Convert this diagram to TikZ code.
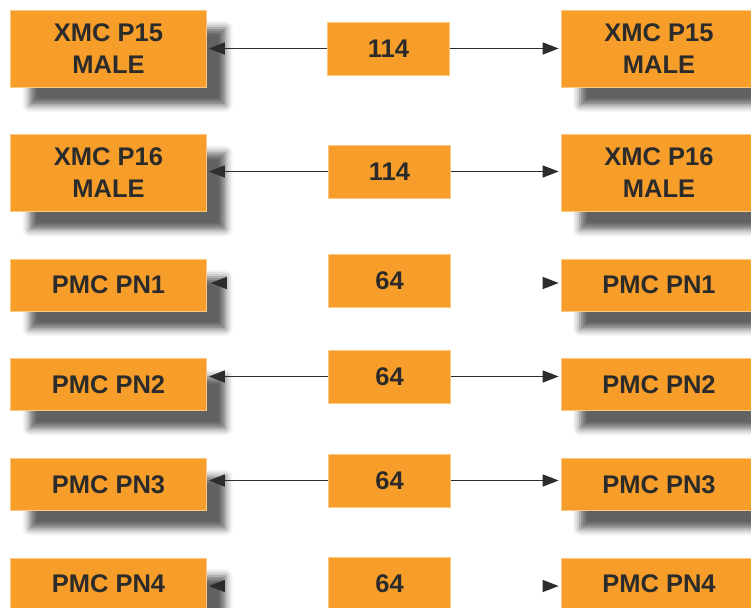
\documentclass[tikz,border=0pt]{standalone}
\usepackage{fontspec}
\setmainfont{Liberation Sans}
\usepackage{tikz}
\usetikzlibrary{shadows.blur,arrows.meta,positioning}
\definecolor{boxorange}{RGB}{246,158,41}
\definecolor{boxedge}{RGB}{250,200,128}
\definecolor{boxtext}{RGB}{43,43,43}
\definecolor{wire}{RGB}{45,45,45}

\begin{document}
\begin{tikzpicture}[x=1pt,y=-1pt,on grid,
    box/.style = {fill=boxorange,draw=boxedge,line width=0.6pt,align=center,inner sep=0pt,
                  text=boxtext,font=\bfseries\fontsize{25.5}{32}\selectfont},
    side/.style = {box,minimum width=196pt,minimum height=52pt,
                   blur shadow={shadow xshift=19pt,shadow yshift=-18pt,shadow blur radius=7pt,shadow opacity=62}},
    tall/.style = {side,minimum height=77pt},
    mid/.style = {box,minimum width=122pt,minimum height=53pt},
    wire/.style = {draw=wire,line width=1.3pt,shorten >=2pt,arrows={-Triangle[length=16pt,width=12pt]}}]
        \useasboundingbox (0,0) rectangle (751,607);

        \node[tall] (l1) at (108.5,48.5) {XMC P15\\MALE};
        \node[tall] (l2) at (108.5,173) {XMC P16\\MALE};
        \node[side] (l3) at (108.5,285) {PMC PN1};
        \node[side] (l4) at (108.5,384.5) {PMC PN2};
        \node[side] (l5) at (108.5,484.5) {PMC PN3};
        \node[side] (l6) at (108.5,584) {PMC PN4};

        \node[mid] (m1) [right=280pt of l1] {114};
        \node[mid] (m2) [right=281pt of l2, yshift=1.5pt] {114};
        \node[mid] (m3) [right=281pt of l3, yshift=4pt] {64};
        \node[mid] (m4) [right=281pt of l4, yshift=8pt] {64};
        \node[mid] (m5) [right=281pt of l5, yshift=4pt] {64};
        \node[mid] (m6) [right=281pt of l6] {64};

        \node[tall] (r1) [right=550.5pt of l1] {XMC P15\\MALE};
        \node[tall] (r2) [right=550.5pt of l2] {XMC P16\\MALE};
        \node[side] (r3) [right=550.5pt of l3] {PMC PN1};
        \node[side] (r4) [right=550.5pt of l4] {PMC PN2};
        \node[side] (r5) [right=550.5pt of l5] {PMC PN3};
        \node[side] (r6) [right=550.5pt of l6] {PMC PN4};

        \coordinate (t3l) at (227,283);
        \coordinate (t3r) at (543,283);
        \coordinate (t6l) at (224,586);
        \coordinate (t6r) at (543,586);

        \draw[wire] (m1.west) -- (m1.west -| l1.east);
        \draw[wire] (m1.east) -- (m1.east -| r1.west);
        \draw[wire] (m2.west) -- (m2.west -| l2.east);
        \draw[wire] (m2.east) -- (m2.east -| r2.west);
        \draw[wire] (m4.west) -- (m4.west -| l4.east);
        \draw[wire] (m4.east) -- (m4.east -| r4.west);
        \draw[wire] (m5.west) -- (m5.west -| l5.east);
        \draw[wire] (m5.east) -- (m5.east -| r5.west);
        \draw[wire,shorten >=4pt] (t3l) -- (t3l -| l3.east);
        \draw[wire] (t3r) -- (t3r -| r3.west);
        \draw[wire] (t6l) -- (t6l -| l6.east);
        \draw[wire] (t6r) -- (t6r -| r6.west);
    \end{tikzpicture}
\end{document}
